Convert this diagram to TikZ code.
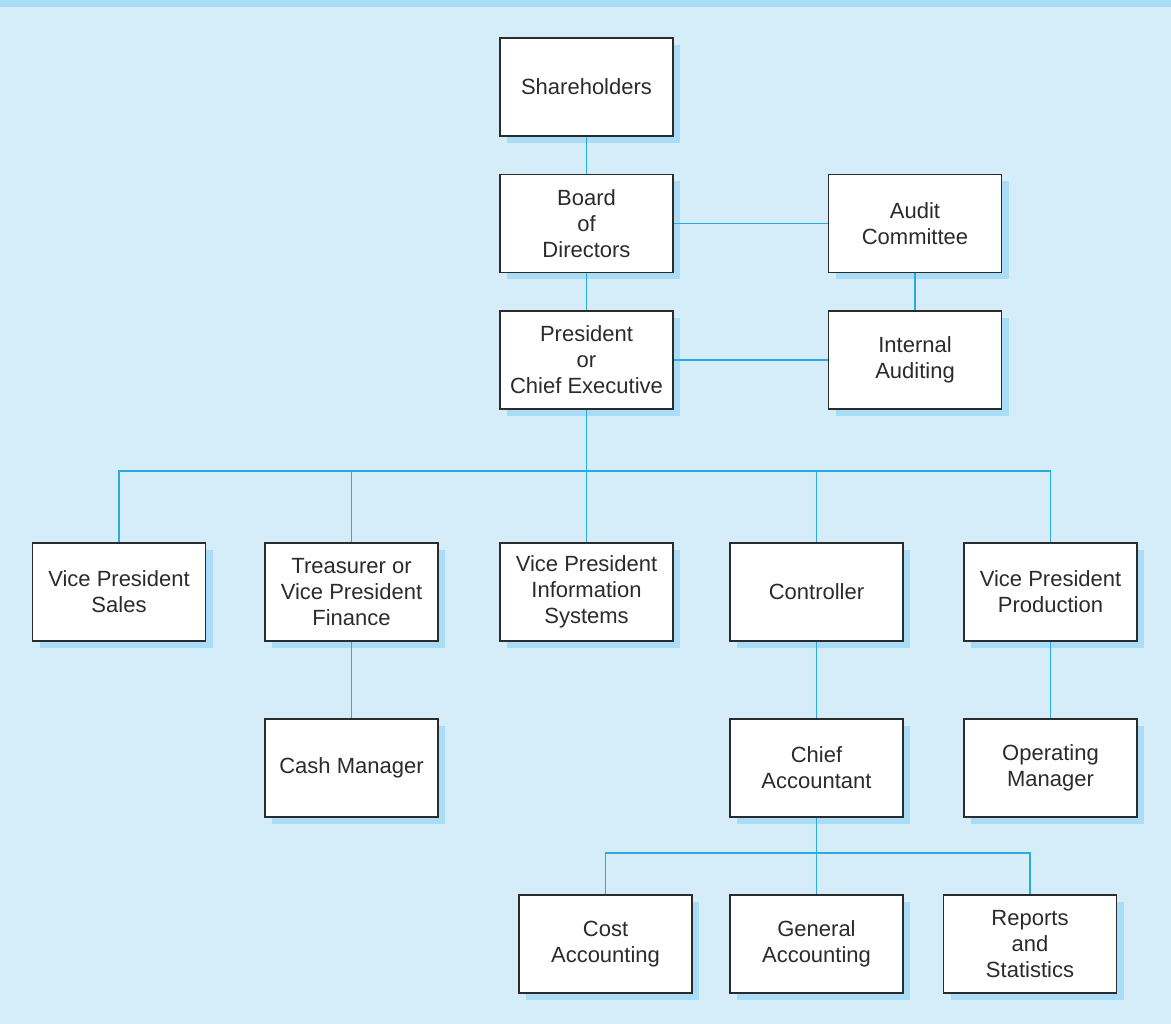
\documentclass[tikz,border=0pt]{standalone}
\usepackage{fontspec}
\setmainfont{Liberation Sans}
\usetikzlibrary{shadows}
\definecolor{bgblue}{HTML}{D5ECF9}
\definecolor{bandblue}{HTML}{A9DDF7}
\definecolor{lineblue}{HTML}{29ABE2}
\definecolor{inkgray}{HTML}{2B2B2B}

\begin{document}
\begin{tikzpicture}[x=1pt,y=-1pt,
  every node/.style={draw=inkgray,line width=1.3pt,fill=white,shape=rectangle,
    minimum width=173pt,minimum height=98pt,inner sep=0pt,align=center,
    font=\fontsize{22}{26}\selectfont,text=inkgray,
    general shadow={fill=bandblue,draw=none,shadow xshift=7pt,shadow yshift=-7pt}},
  link/.style={draw=lineblue,line width=1.5pt}]
  \fill[bgblue] (0,0) rectangle (1171,1024);
  \fill[bandblue] (0,0) rectangle (1171,7);
  \path (586.5,87) node (sh) {Shareholders}
  (586.5,223.5) node (bd) {Board\\of\\Directors} (915,223.5) node (au) {Audit\\Committee}
  (586.5,360) node (pr) {President\\or\\Chief Executive} (915,360) node (ia) {Internal\\Auditing};
  \path (119,592) node (sa) {Vice President\\Sales} (351.5,592) node (tr) {Treasurer or\\Vice President\\Finance}
  (586.5,592) node (is) {Vice President\\Information\\Systems} (816.5,592) node (ct) {Controller}
  (1050.5,592) node (pd) {Vice President\\Production};
  \path (351.5,768) node (cm) {Cash Manager} (816.5,768) node (ca) {Chief\\Accountant}
  (1050.5,768) node (om) {Operating\\Manager};
  \path (605.5,944) node (co) {Cost\\Accounting} (816.5,944) node (ga) {General\\Accounting}
  (1030,944) node (rs) {Reports\\and\\Statistics};
  \coordinate (bus) at (586.5,471);
  \coordinate (bus2) at (816.5,853);
  \draw[link] (sh) -- (bd) -- (pr) -- (is);
  \draw[link] (bd) -- (au) -- (ia) -- (pr);
  \draw[link] (sa.north) -- (sa.north |- bus) -- (pd.north |- bus) -- (pd.north);
  \draw[link] (tr.north) -- (tr.north |- bus);
  \draw[link] (ct.north) -- (ct.north |- bus);
  \draw[link] (tr) -- (cm);
  \draw[link] (ct) -- (ca) -- (ga);
  \draw[link] (pd) -- (om);
  \draw[link] (co.north) -- (co.north |- bus2) -- (rs.north |- bus2) -- (rs.north);
\end{tikzpicture}
\end{document}
